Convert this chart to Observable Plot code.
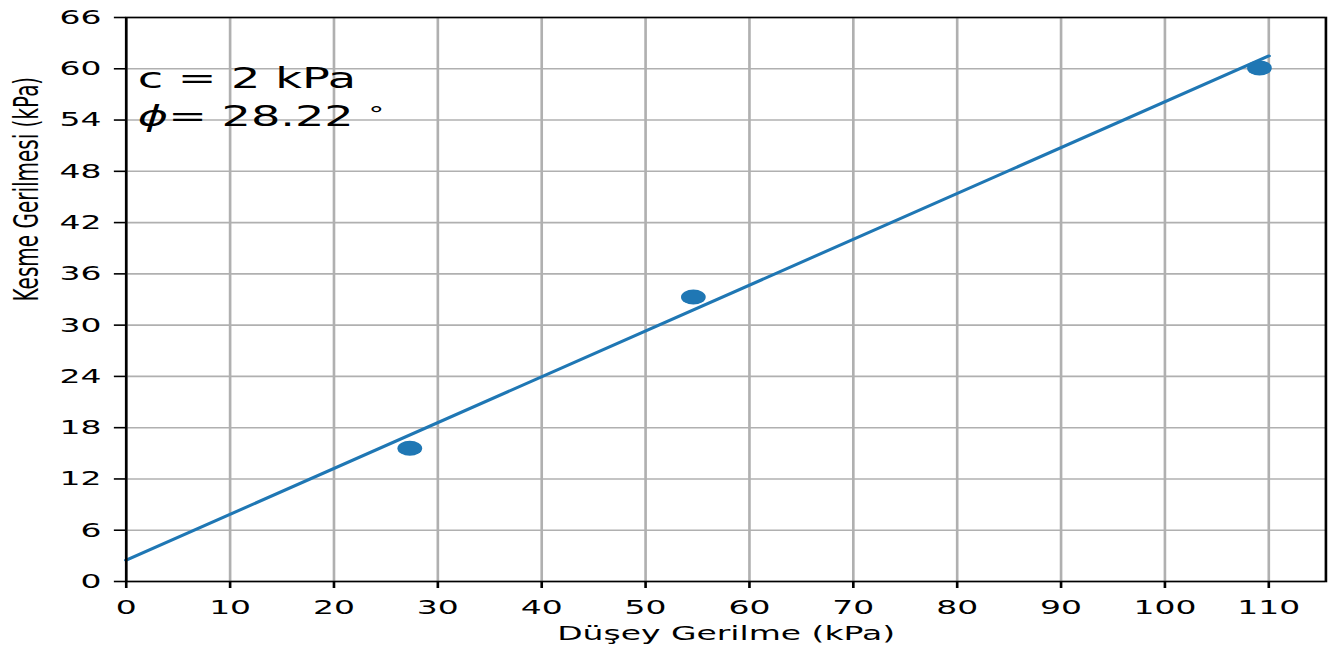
<!DOCTYPE html>
<html>
<head>
<meta charset="utf-8">
<script src="https://cdn.jsdelivr.net/npm/d3@7"></script>
<script src="https://cdn.jsdelivr.net/npm/@observablehq/plot@0.6"></script>
<style>
  html, body { margin: 0; padding: 0; background: white; overflow: hidden; }
  #chart { width: 1335px; height: 651px; }
</style>
</head>
<body>
<div id="chart"></div>
<script>
// ---- data ----
const normalStress = [27.3, 54.6, 109.1];      // Düşey Gerilme (kPa)
const shearStress  = [15.6, 33.3, 60.1];       // Kesme Gerilmesi (kPa)
const fitX = [0, 110];                          // fitted envelope x
const fitY = [2.5, 61.5];                       // fitted envelope y
const xTicks = [0, 10, 20, 30, 40, 50, 60, 70, 80, 90, 100, 110];
const yTicks = [0, 6, 12, 18, 24, 30, 36, 42, 48, 54, 60, 66];
const annotations = ["c = 2 kPa", "ϕ= 28.22 °"];
const xLabel = "Düşey Gerilme (kPa)";
const yLabel = "Kesme Gerilmesi (kPa)";

const points = normalStress.map((x, i) => ({x, y: shearStress[i]}));
const fit = fitX.map((x, i) => ({x, y: fitY[i]}));

// picture is horizontally stretched: draw narrow, then stretch
const K = 1.65;
const W = Math.round(1335 / K);
const H = 651;
const C0 = "#1f77b4";

const svg = Plot.plot({
  width: W,
  height: H,
  marginLeft: 76,
  marginRight: 6,
  marginTop: 17,
  marginBottom: 70,
  style: {fontFamily: "DejaVu Sans", fontSize: "20px", color: "black", background: "white", overflow: "visible"},
  x: {domain: [0, 115.5], axis: null},
  y: {domain: [0, 66], axis: null},
  marks: [
    Plot.gridX(xTicks, {stroke: "#b0b0b0", strokeOpacity: 1, strokeWidth: 1.6}),
    Plot.gridY(yTicks, {stroke: "#b0b0b0", strokeOpacity: 1, strokeWidth: 1.6}),
    Plot.dot(points, {x: "x", y: "y", r: 7.5, fill: C0, stroke: "none"}),
    Plot.line(fit, {x: "x", y: "y", stroke: C0, strokeWidth: 2.7}),
    Plot.frame({stroke: "black", strokeWidth: 1.6}),
    Plot.axisX(xTicks, {tickSize: 7, tickPadding: 11, stroke: "black", strokeWidth: 1.6, fill: "black", fontSize: 20, label: null}),
    Plot.axisY(yTicks, {tickSize: 7, tickPadding: 8, stroke: "black", strokeWidth: 1.6, fill: "black", fontSize: 20, label: null}),
    Plot.text([annotations[0]], {x: () => 1.1, y: () => 58.8, text: d => d, textAnchor: "start", lineAnchor: "middle", fontSize: 28, fill: "black"}),
    Plot.text([annotations[1]], {x: () => 1.1, y: () => 54.4, text: d => d, textAnchor: "start", lineAnchor: "middle", fontSize: 28, fill: "black"}),
    Plot.text([xLabel], {frameAnchor: "bottom", dy: 52.5, text: d => d, lineAnchor: "middle", fontSize: 20, fill: "black"}),
    Plot.text([yLabel], {frameAnchor: "left", rotate: -90, dx: -60, dy: 2, text: d => d, lineAnchor: "middle", fontSize: 20, fill: "black"})
  ]
});

// italic phi and superscript degree, as in matplotlib mathtext
const NS = "http://www.w3.org/2000/svg";
svg.querySelectorAll("text").forEach(t => {
  const s = t.textContent;
  if (s.startsWith("ϕ")) {
    t.textContent = "";
    const a = document.createElementNS(NS, "tspan");
    a.setAttribute("font-style", "italic");
    a.textContent = "ϕ";
    const b = document.createElementNS(NS, "tspan");
    b.textContent = s.slice(1, -1);
    const c = document.createElementNS(NS, "tspan");
    c.setAttribute("font-size", "19");
    c.setAttribute("dy", "-0.25em");
    c.textContent = s.slice(-1);
    t.appendChild(a);
    t.appendChild(b);
    t.appendChild(c);
  }
});

svg.setAttribute("viewBox", `0 0 ${W} ${H}`);
svg.setAttribute("preserveAspectRatio", "none");
svg.setAttribute("width", 1335);
svg.setAttribute("height", H);
svg.style.width = "1335px";
svg.style.height = H + "px";
svg.style.maxWidth = "none";
document.getElementById("chart").appendChild(svg);
</script>
</body>
</html>
